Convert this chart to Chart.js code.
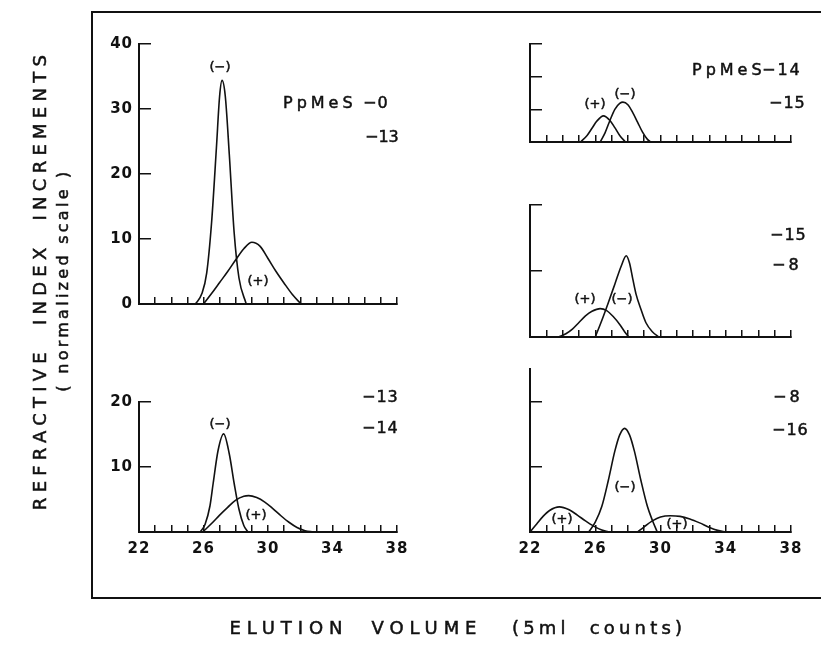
<!DOCTYPE html>
<html>
<head>
<meta charset="utf-8">
<script src="https://cdn.jsdelivr.net/npm/chart.js@4/dist/chart.umd.min.js"></script>
<style>
  body { margin: 0; background: #fff; }
  #page { position: relative; width: 821px; height: 649px; overflow: hidden; background: #fff;
          font-family: "DejaVu Sans", sans-serif; color: #111; }
  #page canvas { position: absolute; left: 0; top: 0; }
  .txt { position: absolute; white-space: pre; line-height: 1; transform: translateY(-50%);
         -webkit-text-stroke: 0.5px #111; }
  #frame { position: absolute; left: 91px; top: 11px; width: 760px; height: 584px;
           border: 2px solid #111; border-right: none; }
</style>
</head>
<body>
<div id="page"><div id="frame"></div></div>
<script>
// x axis: elution volume, 5 ml counts
const xTicks = [22, 23, 24, 25, 26, 27, 28, 29, 30, 31, 32, 33, 34, 35, 36, 37, 38];
const xTickLabels = [22, 26, 30, 34, 38];

// PpMeS-0 / -13 (top left)
const p1MinusX = [25.5, 25.9, 26.2, 26.5, 26.8, 27.0, 27.15, 27.35, 27.6, 27.9, 28.2, 28.65];
const p1MinusY = [0, 1.6, 4.8, 12.5, 24, 32, 34.4, 32, 23, 11, 4, 0];
const p1PlusX = [26.0, 26.5, 27.0, 27.5, 28.0, 28.5, 29.0, 29.5, 30.0, 30.5, 31.0, 31.5, 32.05];
const p1PlusY = [0, 1.6, 3.3, 5.0, 6.8, 8.5, 9.5, 8.9, 7.0, 5.0, 3.2, 1.5, 0];

// PpMeS-14 / -15 (top right)
const p2PlusX = [25.1, 25.5, 25.8, 26.1, 26.5, 26.9, 27.2, 27.5, 27.85];
const p2PlusY = [0, 1.0, 2.1, 3.2, 4.0, 3.3, 2.2, 1.0, 0];
const p2MinusX = [26.3, 26.6, 26.9, 27.2, 27.5, 27.7, 28.0, 28.3, 28.6, 28.9, 29.2, 29.4];
const p2MinusY = [0, 1.4, 3.3, 5.0, 5.9, 6.1, 5.7, 4.5, 3.0, 1.5, 0.4, 0];

// -13 / -14 (bottom left)
const p3MinusX = [25.8, 26.1, 26.4, 26.6, 26.9, 27.25, 27.6, 27.9, 28.2, 28.5, 28.75];
const p3MinusY = [0, 1.2, 4, 7.5, 12.5, 15.1, 12, 7.5, 3.5, 1, 0];
const p3PlusX = [25.95, 26.5, 27.0, 27.5, 28.0, 28.5, 28.8, 29.3, 29.8, 30.3, 30.8, 31.3, 31.8, 32.3, 32.8];
const p3PlusY = [0, 1.3, 2.6, 3.8, 4.9, 5.5, 5.6, 5.3, 4.6, 3.6, 2.5, 1.5, 0.7, 0.2, 0];

// -15 / -8 (middle right)
const p4PlusX = [23.75, 24.2, 24.6, 25.0, 25.4, 25.8, 26.3, 26.7, 27.1, 27.5, 27.8, 28.05];
const p4PlusY = [0, 0.5, 1.2, 2.2, 3.2, 3.9, 4.3, 4.0, 3.1, 1.9, 0.8, 0];
const p4MinusX = [26.0, 26.4, 26.8, 27.2, 27.6, 27.9, 28.1, 28.3, 28.5, 28.8, 29.1, 29.5, 29.9];
const p4MinusY = [0, 2.5, 5.2, 8.0, 10.8, 12.3, 11.2, 8.8, 6.5, 4.2, 2.2, 0.8, 0];

// -8 / -16 (bottom right)
const p6PlusAX = [22.0, 22.4, 22.8, 23.2, 23.8, 24.4, 24.9, 25.4, 25.9, 26.4, 26.8];
const p6PlusAY = [0, 1.2, 2.4, 3.3, 3.85, 3.4, 2.6, 1.7, 0.9, 0.3, 0];
const p6MinusX = [25.6, 26.0, 26.4, 26.8, 27.2, 27.5, 27.8, 28.1, 28.4, 28.8, 29.2, 29.5, 29.8];
const p6MinusY = [0, 1.5, 3.9, 7.9, 12.4, 14.9, 15.9, 14.9, 12.4, 7.9, 3.9, 1.8, 0];
const p6PlusBX = [28.6, 29.0, 29.5, 30.0, 30.6, 31.2, 31.8, 32.4, 33.0, 33.5, 34.0];
const p6PlusBY = [0, 0.8, 1.7, 2.3, 2.5, 2.4, 2.0, 1.4, 0.7, 0.25, 0];

const W = 821, H = 649;
const AX_W = 50, AX_H = 40;
const ink = '#111';
const font = '"DejaVu Sans", sans-serif';
const page = document.getElementById('page');

// letter spacing for the tick labels, like the stencil lettering
const spacing = {
  id: 'spacing',
  beforeDraw(chart) { chart.ctx.letterSpacing = '1px'; }
};

function panel(area, yMax, yTicks, yLabels, showX, curves) {
  const cv = document.createElement('canvas');
  cv.width = W; cv.height = H;
  page.appendChild(cv);
  new Chart(cv, {
    type: 'scatter',
    data: {
      datasets: curves.map(c => ({
        data: c[0].map((x, i) => ({ x: x, y: c[1][i] })),
        showLine: true,
        pointRadius: 0,
        borderColor: ink,
        borderWidth: 1.6,
        cubicInterpolationMode: 'monotone',
        fill: false,
        clip: false
      }))
    },
    options: {
      responsive: false,
      animation: false,
      devicePixelRatio: 1,
      events: [],
      layout: {
        autoPadding: false,
        padding: { left: area.l - AX_W, top: area.t, right: W - area.r, bottom: H - area.b - AX_H }
      },
      plugins: { legend: { display: false }, tooltip: { enabled: false } },
      scales: {
        x: {
          type: 'linear', position: 'bottom', min: 22, max: 38,
          afterFit: s => { s.height = AX_H; },
          afterBuildTicks: s => { s.ticks = xTicks.map(v => ({ value: v })); },
          ticks: {
            autoSkip: false, maxRotation: 0, padding: 15, color: ink,
            font: { family: font, size: 15, weight: 'bold' },
            callback: v => (showX && xTickLabels.includes(v)) ? String(v) : ''
          },
          grid: { drawOnChartArea: false, drawTicks: true, tickLength: -7, color: ink, lineWidth: 1.5 },
          border: { display: true, color: ink, width: 2 }
        },
        y: {
          type: 'linear', position: 'left', min: 0, max: yMax,
          afterFit: s => { s.width = AX_W; },
          afterBuildTicks: s => { s.ticks = yTicks.map(v => ({ value: v })); },
          ticks: {
            autoSkip: false, padding: 18, color: ink,
            font: { family: font, size: 15, weight: 'bold' },
            callback: v => yLabels.includes(v) ? String(v) : ''
          },
          grid: { drawOnChartArea: false, drawTicks: true, tickLength: -12, color: ink, lineWidth: 1.5 },
          border: { display: true, color: ink, width: 2 }
        }
      }
    },
    plugins: [spacing]
  });
}

panel({ l: 139, r: 397, t: 44, b: 304 }, 40, [0, 10, 20, 30, 40], [0, 10, 20, 30, 40], false,
      [[p1MinusX, p1MinusY], [p1PlusX, p1PlusY]]);
panel({ l: 530, r: 791, t: 44, b: 142 }, 15, [5, 10, 15], [], false,
      [[p2PlusX, p2PlusY], [p2MinusX, p2MinusY]]);
panel({ l: 530, r: 791, t: 205, b: 337 }, 20, [10, 20], [], false,
      [[p4PlusX, p4PlusY], [p4MinusX, p4MinusY]]);
panel({ l: 139, r: 397, t: 402, b: 532 }, 20, [10, 20], [10, 20], true,
      [[p3MinusX, p3MinusY], [p3PlusX, p3PlusY]]);
panel({ l: 530, r: 791, t: 369, b: 532 }, 25, [10, 20], [], true,
      [[p6PlusAX, p6PlusAY], [p6MinusX, p6MinusY], [p6PlusBX, p6PlusBY]]);

// text labels: [text, x, y, align, size, letter spacing]
const notes = [
  ['PpMeS', 283, 103, 'left', 16, 4], ['\u22120', 363, 103, 'left', 16, 1], ['\u221213', 365, 137, 'left', 16, 0],
  ['(\u2212)', 220, 66, 'center', 13, 0], ['(+)', 258, 280, 'center', 13, 0],
  ['PpMeS', 692, 70, 'left', 16, 4], ['\u221214', 762, 70, 'left', 16, 2], ['\u221215', 769, 103, 'left', 16, 1],
  ['(+)', 595, 103, 'center', 13, 0], ['(\u2212)', 625, 93, 'center', 13, 0],
  ['\u221215', 770, 235, 'left', 16, 1], ['\u22128', 772, 265, 'left', 16, 3],
  ['(+)', 585, 298, 'center', 13, 0], ['(\u2212)', 622, 298, 'center', 13, 0],
  ['\u221213', 362, 397, 'left', 16, 1], ['\u221214', 362, 428, 'left', 16, 1],
  ['(\u2212)', 220, 423, 'center', 13, 0], ['(+)', 256, 514, 'center', 13, 0],
  ['\u22128', 773, 397, 'left', 16, 3], ['\u221216', 772, 430, 'left', 16, 1],
  ['(\u2212)', 625, 486, 'center', 13, 0], ['(+)', 562, 518, 'center', 13, 0], ['(+)', 677, 523, 'center', 13, 0]
];

function addText(t, x, y, align, size, ls) {
  const d = document.createElement('div');
  d.className = 'txt';
  d.textContent = t;
  d.style.fontSize = size + 'px';
  d.style.letterSpacing = ls + 'px';
  d.style.top = y + 'px';
  d.style.left = x + 'px';
  if (align === 'center') d.style.transform = 'translate(-50%, -50%)';
  page.appendChild(d);
  return d;
}
notes.forEach(n => addText(...n));

// axis titles, spread to the width they take in the figure
const mctx = document.createElement('canvas').getContext('2d');
function fitted(t, cx, cy, size, width, rotate) {
  mctx.font = size + 'px ' + font;
  const w = mctx.measureText(t).width;
  const ls = (width - w) / (t.length - 1);
  const d = addText(t, cx, cy, 'center', size, ls);
  d.style.marginLeft = (ls / 2) + 'px';
  d.style.transform = 'translate(-50%, -50%)' + (rotate ? ' rotate(-90deg)' : '');
}
fitted('REFRACTIVE  INDEX  INCREMENTS', 37, 280, 18, 455, true);
fitted('( normalized scale )', 61, 280, 16, 220, true);
fitted('ELUTION  VOLUME', 353, 628, 18, 247, false);
fitted('(5ml  counts)', 597, 628, 18, 170, false);
</script>
</body>
</html>
